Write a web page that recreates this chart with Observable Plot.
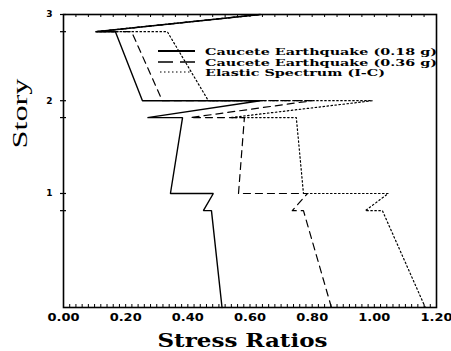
<!DOCTYPE html>
<html><head><meta charset="utf-8">
<script src="https://cdn.jsdelivr.net/npm/d3@7"></script>
<script src="https://cdn.jsdelivr.net/npm/@observablehq/plot@0.6"></script>
<style>body{margin:0;background:#fff;} svg{display:block;}</style>
</head><body><div id="chart"></div>
<script>
// Elevation of each profile vertex (story levels; beam bottom / floor top)
const elevation = [0, 3.10, 3.10, 3.65, 3.65, 6.08, 6.08, 6.62, 6.62, 8.83, 8.83, 9.38];
// Stress ratios read along each profile
const ratio018 = [0.510, 0.476, 0.450, 0.482, 0.344, 0.383, 0.270, 0.633, 0.254, 0.167, 0.103, 0.633];
const ratio036 = [0.862, 0.772, 0.736, 0.785, 0.563, 0.582, 0.408, 0.800, 0.318, 0.219, 0.103, 0.633];
const ratioElastic = [1.164, 1.026, 0.971, 1.045, 0.772, 0.749, 0.537, 0.994, 0.466, 0.334, 0.103, 0.633];
const seriesNames = ["Caucete Earthquake (0.18 g)", "Caucete Earthquake (0.36 g)", "Elastic Spectrum (I-C)"];
const storyTicks = [3.65, 6.62, 9.38];
const storyLabels = ["1", "2", "3"];
const levelTicks = [3.10, 3.65, 6.08, 6.62, 8.83, 9.38];
const xTicks = [0, 0.2, 0.4, 0.6, 0.8, 1.0, 1.2];
const xTitle = "Stress Ratios";
const yTitle = "Story";

const W = 451, H = 351, mL = 63, mR = 15, mT = 14, mB = 44;
const frameW = W - mL - mR, frameH = H - mT - mB;

const toRows = (vals, name) => vals.map((v, i) => ({series: name, x: v, y: elevation[i]}));
const rows018 = toRows(ratio018, seriesNames[0]);
const rows036 = toRows(ratio036, seriesNames[1]);
const rowsEl = toRows(ratioElastic, seriesNames[2]);

const minorBottom = d3.range(0, 1.2001, 0.02);
const minorTop = d3.range(0, 1.2001, 0.04);

const chart = Plot.plot({
  width: W, height: H,
  marginLeft: mL, marginRight: mR, marginTop: mT, marginBottom: mB,
  style: {background: "#fff", color: "#000"},
  x: {domain: [0, 1.2], label: null},
  y: {domain: [0, 9.38], label: null},
  marks: [
    Plot.frame({stroke: "#000", strokeWidth: 1.6}),
    Plot.tickX(minorBottom, {x: d => d, insetTop: frameH - 3, stroke: "#000", strokeWidth: 1}),
    Plot.tickX(minorTop, {x: d => d, insetBottom: frameH - 3, stroke: "#000", strokeWidth: 1}),
    Plot.tickY(levelTicks, {y: d => d, insetLeft: -3, insetRight: frameW - 3, stroke: "#000", strokeWidth: 1.2}),
    Plot.axisX({ticks: xTicks, tickFormat: d3.format(".2f"), tickSize: 0, tickPadding: 6,
      fontSize: 11, fontWeight: "bold", fontFamily: "DejaVu Sans", label: null}),
    Plot.axisY({ticks: storyTicks, tickFormat: d => storyLabels[storyTicks.indexOf(d)], tickSize: 0, tickPadding: 11,
      fontSize: 9, fontWeight: "bold", fontFamily: "DejaVu Sans", label: null}),
    Plot.line(rows018, {x: "x", y: "y", stroke: "#000", strokeWidth: 1.4, strokeLinejoin: "miter"}),
    Plot.line(rows036, {x: "x", y: "y", stroke: "#000", strokeWidth: 1.2, strokeDasharray: "7,5"}),
    Plot.line(rowsEl, {x: "x", y: "y", stroke: "#000", strokeWidth: 1.2, strokeDasharray: "1.5,2.5"}),
    Plot.text([xTitle], {frameAnchor: "bottom", dx: -7.5, dy: 33, lineAnchor: "middle",
      fontFamily: "DejaVu Serif", fontWeight: "bold", fontSize: 19, fill: "#000"}),
    Plot.text([yTitle], {frameAnchor: "left", dx: -43, dy: -12.5, rotate: -90, lineAnchor: "middle",
      fontFamily: "Liberation Serif", fontSize: 20, fill: "#000"})
  ]
});
document.getElementById("chart").appendChild(chart);

const svg = d3.select(chart);
svg.selectAll("text").filter(function() { return this.textContent === xTitle; })
  .attr("textLength", 170).attr("lengthAdjust", "spacingAndGlyphs");
svg.selectAll("text").filter(function() { return this.textContent === yTitle; })
  .attr("textLength", 70).attr("lengthAdjust", "spacingAndGlyphs");
svg.selectAll('g[aria-label="x-axis tick label"] text')
  .attr("textLength", 32).attr("lengthAdjust", "spacingAndGlyphs");

// Legend inside the frame
const legend = svg.append("g").attr("aria-label", "legend").attr("text-anchor", "start");
const legendRows = [
  {name: seriesNames[0], dash: null, y: 51, x1: 158, x2: 195, w: 1.8, len: 232},
  {name: seriesNames[1], dash: "15,7", y: 62, x1: 158, x2: 195, w: 1.3, len: 232},
  {name: seriesNames[2], dash: "1.5,2.5", y: 72, x1: 160, x2: 191, w: 1.2, len: 180}
];
legendRows.forEach(r => {
  legend.append("line").attr("x1", r.x1).attr("x2", r.x2).attr("y1", r.y).attr("y2", r.y)
    .attr("stroke", "#000").attr("stroke-width", r.w).attr("stroke-dasharray", r.dash);
  legend.append("text").attr("x", 205).attr("y", r.y + 3.8).attr("text-anchor", "start")
    .attr("font-family", "DejaVu Serif").attr("font-weight", "bold").attr("font-size", 10)
    .attr("textLength", r.len).attr("lengthAdjust", "spacingAndGlyphs")
    .attr("fill", "#000").text(r.name);
});
</script>
</body></html>
